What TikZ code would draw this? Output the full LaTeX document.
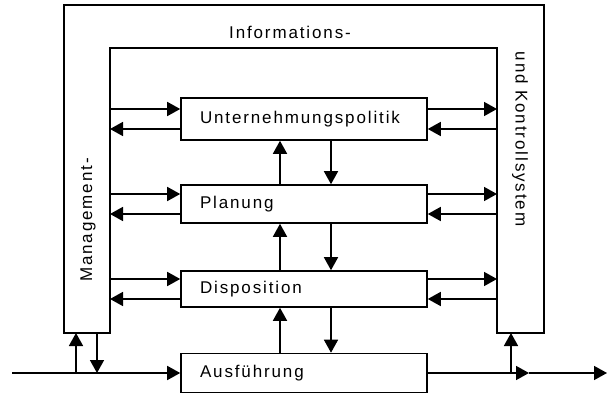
\documentclass[tikz,border=0pt]{standalone}
\usepackage{fontspec}
\setmainfont{Liberation Sans}[LetterSpace=11]
\usetikzlibrary{arrows.meta}

\begin{document}
\begin{tikzpicture}[x=1pt,y=1pt,line width=1.6pt,
    font=\fontsize{17}{19}\selectfont,
    box/.style={draw,text width=208pt,inner xsep=19pt,align=left,minimum height=39pt},
    arr/.style={-{Triangle[length=13pt,width=14pt]}}]
    \useasboundingbox (0,0) rectangle (608,394);
    % Rahmen: Management-, Informations- und Kontrollsystem
    \draw (64,61) -- (64,389) -- (544,389) -- (544,61) -- (497,61)
        -- (497,346) -- (110,346) -- (110,61) -- cycle;
    \node (info) at (290,362) {Informations-};
    \node[rotate=90] (mgmt) at (88,174) {Management-};
    \node[rotate=-90] (ks) at (520,255) {und Kontrollsystem};
    \coordinate (mL) at (110,0);
    \coordinate (mR) at (497,0);
    \coordinate (mB) at (0,61);
    % Ebenen
    \node[box,minimum height=42pt] (up) at (304,275) {Unternehmungspolitik};
    \node[box,minimum height=38pt] (pl) at (304,190) {Planung};
    \node[box,minimum height=36pt] (di) at (304,105) {Disposition};
    \node[box] (au) at (304,21) {Ausführung};
    % Verbindungen zum System
    \foreach \b in {up,pl,di} {
        \draw[arr] ([yshift=10]\b.west -| mL) -- ([yshift=10]\b.west);
        \draw[arr] ([yshift=-10]\b.west) -- ([yshift=-10]\b.west -| mL);
        \draw[arr] ([yshift=10]\b.east) -- ([yshift=10]\b.east -| mR);
        \draw[arr] ([yshift=-10]\b.east -| mR) -- ([yshift=-10]\b.east);
    }
    % zwischen den Ebenen
    \coordinate (vu) at (280,0);
    \coordinate (vd) at (331,0);
    \foreach \lo/\hi in {pl/up,di/pl,au/di} {
        \draw[arr] (\lo.north -| vu) -- (\hi.south -| vu);
        \draw[arr] (\hi.south -| vd) -- (\lo.north -| vd);
    }
    % Ein- und Ausgang
    \coordinate (in) at (12,21);
    \coordinate (ml1) at (76,21);
    \coordinate (ml2) at (97,21);
    \coordinate (kr) at (511,21);
    \coordinate (o1) at (529,21);
    \coordinate (o2) at (607,21);
    \draw[arr] (in) -- (au.west);
    \draw[arr] (ml1) -- (ml1 |- mB);
    \draw[arr] (ml2 |- mB) -- (ml2);
    \draw[arr] (au.east) -- (o1);
    \draw[arr] (o1) -- (o2);
    \draw[arr] (kr) -- (kr |- mB);
\end{tikzpicture}
\end{document}
